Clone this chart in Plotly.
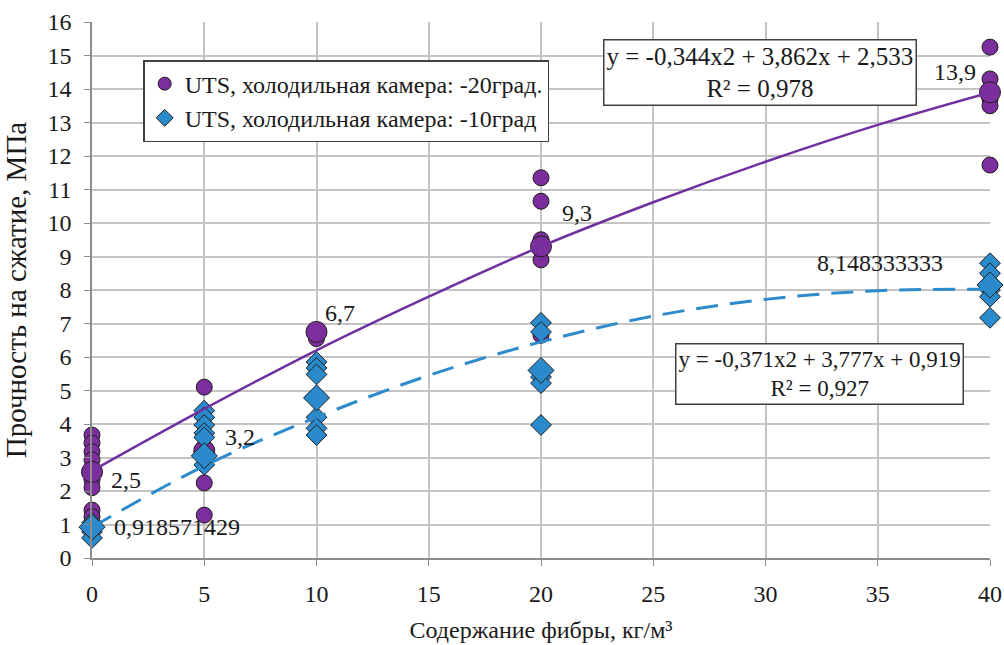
import plotly.graph_objects as go

# ---- data ----
fiber = [0, 5, 10, 20, 40]

# -20 grad (purple circles), individual results
cold20_x = [0, 0, 0, 0, 0, 0, 0, 0,
            5, 5, 5, 5, 5,
            10,
            20, 20, 20, 20, 20,
            40, 40, 40, 40, 40]
cold20_y = [3.67, 3.43, 3.17, 2.93, 2.33, 2.10, 1.43, 1.23,
            5.10, 3.30, 3.15, 2.24, 1.28,
            6.55,
            11.35, 10.65, 9.50, 8.90, 6.65,
            15.25, 14.30, 13.70, 13.50, 11.73]
cold20_mean = [2.57, 3.2, 6.75, 9.3, 13.9]
cold20_labels = ["2,5", "3,2", "6,7", "9,3", "13,9"]

# -10 grad (blue diamonds), individual results
cold10_x = [0, 0, 0,
            5, 5, 5, 5, 5, 5,
            10, 10, 10, 10, 10, 10,
            20, 20, 20, 20, 20,
            40, 40, 40, 40, 40]
cold10_y = [1.05, 0.78, 0.60,
            4.40, 4.20, 3.97, 3.73, 3.60, 2.78,
            5.85, 5.67, 5.48, 4.20, 3.87, 3.67,
            7.02, 6.75, 5.40, 5.22, 3.97,
            8.80, 8.50, 8.00, 7.80, 7.17]
cold10_mean = [0.92, 3.05, 4.78, 5.6, 8.15]
cold10_labels = ["0,918571429", "", "", "", "8,148333333"]

# trend curves
trend_x = [0, 5, 10, 15, 20, 25, 30, 35, 40]
trend20_y = [2.6, 4.45, 6.2, 7.8, 9.3, 10.62, 11.83, 12.93, 13.9]
trend10_y = [0.92, 2.75, 4.2, 5.45, 6.45, 7.22, 7.72, 7.98, 8.02]

eq20 = "y = -0,344x2 + 3,862x + 2,533<br>R² = 0,978"
eq10 = "y = -0,371x2 + 3,777x + 0,919<br>R² = 0,927"

name20 = "UTS, холодильная камера: -20град."
name10 = "UTS, холодильная камера: -10град"

x_title = "Содержание фибры, кг/м³"
y_title = "Прочность на сжатие, МПа"

# ---- styles ----
PURPLE = "#7D2E9E"
PURPLE_LINE = "#7030A0"
BLUE = "#2B8ACB"
BLUE_LINE = "#2E8BCB"
EDGE = "#1e1e1e"
FONT = "'Liberation Serif', 'Times New Roman', Times, serif"
TXT = "#1a1a1a"
FS = 24

fig = go.Figure()

fig.add_trace(go.Scatter(x=cold20_x, y=cold20_y, mode="markers", showlegend=False,
                         cliponaxis=False,
                         marker=dict(symbol="circle", size=16, color=PURPLE,
                                     line=dict(color=EDGE, width=1))))
fig.add_trace(go.Scatter(x=fiber, y=cold20_mean, mode="markers", showlegend=False,
                         cliponaxis=False,
                         marker=dict(symbol="circle", size=21, color=PURPLE,
                                     line=dict(color=EDGE, width=1))))
fig.add_trace(go.Scatter(x=cold10_x, y=cold10_y, mode="markers", showlegend=False,
                         cliponaxis=False,
                         marker=dict(symbol="diamond", size=16, color=BLUE,
                                     line=dict(color=EDGE, width=1))))
fig.add_trace(go.Scatter(x=fiber, y=cold10_mean, mode="markers", showlegend=False,
                         cliponaxis=False,
                         marker=dict(symbol="diamond", size=20, color=BLUE,
                                     line=dict(color=EDGE, width=1))))

fig.add_trace(go.Scatter(x=trend_x, y=trend20_y, mode="lines", showlegend=False,
                         line=dict(color=PURPLE_LINE, width=2.5, shape="spline")))
fig.add_trace(go.Scatter(x=trend_x, y=trend10_y, mode="lines", showlegend=False,
                         line=dict(color=BLUE_LINE, width=3, shape="spline",
                                   dash="22px,12px")))

# legend entries
fig.add_trace(go.Scatter(x=[None], y=[None], mode="markers", name=name20,
                         legendgroup="a",
                         marker=dict(symbol="circle", size=13, color=PURPLE,
                                     line=dict(color=EDGE, width=1))))
fig.add_trace(go.Scatter(x=[None], y=[None], mode="markers", name=name10,
                         legendgroup="b",
                         marker=dict(symbol="diamond", size=13, color=BLUE,
                                     line=dict(color=EDGE, width=1))))

# data labels (positions offset as in the reference)
lab20_pos = [(1.5, 2.33), (6.6, 3.6), (11.05, 7.3), (21.6, 10.3), (38.45, 14.5)]
for (px, py), t in zip(lab20_pos, cold20_labels):
    fig.add_annotation(x=px, y=py, text=t, showarrow=False,
                       font=dict(family=FONT, size=24, color=TXT))
lab10_pos = [(0.9, 0.93), None, None, None, (35.1, 8.8)]
for pos, t in zip(lab10_pos, cold10_labels):
    if pos is None or not t:
        continue
    px, py = pos
    fig.add_annotation(x=px, y=py, text=t, showarrow=False,
                       xanchor="left" if px < 5 else "center",
                       font=dict(family=FONT, size=24, color=TXT))

# equation boxes
for (bx, by), t, fs in [((29.75, 14.5), eq20, 25), ((32.4, 5.5), eq10, 23)]:
    fig.add_annotation(x=bx, y=by, text=t, showarrow=False, align="center",
                       bgcolor="white", bordercolor="#404040", borderwidth=1.5,
                       borderpad=2,
                       font=dict(family=FONT, size=fs, color=TXT))

axis_common = dict(showline=True, linecolor="#8c8c8c", linewidth=1.5,
                   showgrid=True, gridcolor="#c4c4c4", gridwidth=1.5,
                   ticks="outside", ticklen=6, tickcolor="#8c8c8c",
                   tickfont=dict(family=FONT, size=FS, color=TXT),
                   zeroline=False, automargin=False)

fig.update_layout(
    width=1004, height=645,
    margin=dict(l=92, r=14, t=22, b=87),
    paper_bgcolor="white", plot_bgcolor="white",
    font=dict(family=FONT, size=FS, color=TXT),
    xaxis=dict(range=[0, 40], dtick=5, tick0=0, ticklabelstandoff=7,
               title=dict(text=x_title, standoff=16,
                          font=dict(family=FONT, size=24, color=TXT)),
               **axis_common),
    yaxis=dict(range=[0, 16], dtick=1, tick0=0, ticklabelstandoff=8,
               title=dict(text=y_title, standoff=12,
                          font=dict(family=FONT, size=29, color=TXT)),
               **axis_common),
    legend=dict(x=0.057, y=0.929, xanchor="left", yanchor="top",
                bgcolor="white", bordercolor="#404040", borderwidth=1.5,
                traceorder="grouped", tracegroupgap=0, itemwidth=30,
                font=dict(family=FONT, size=24, color=TXT)),
)

fig.write_html("out.html", config={"displayModeBar": False},
               post_script="document.body.style.margin='0';")
